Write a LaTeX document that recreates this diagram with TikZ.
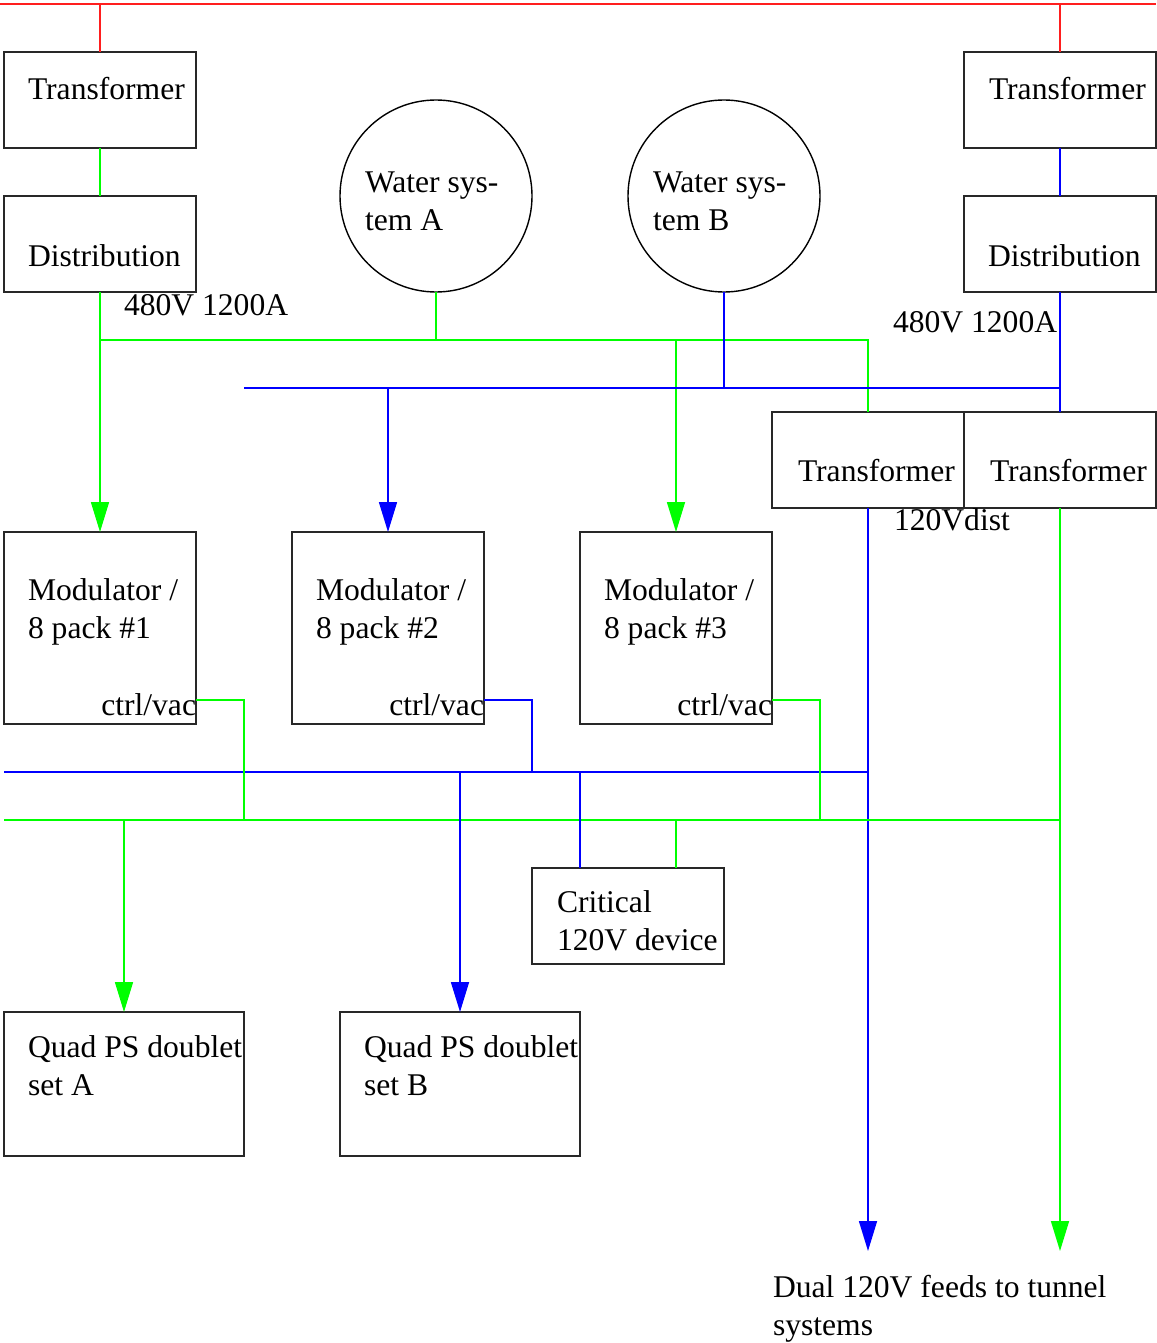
\documentclass[tikz,border=0pt]{standalone}
\usepackage{fontspec}
\setmainfont{Liberation Serif}
\usetikzlibrary{arrows.meta,calc}
\definecolor{cred}{RGB}{255,30,30}
\definecolor{cgreen}{RGB}{0,255,0}
\definecolor{cblue}{RGB}{0,0,255}
\definecolor{cbox}{RGB}{40,40,40}
\tikzset{
  boxst/.style={draw=cbox, line width=1.8pt, inner sep=0pt, outer sep=0pt, anchor=north west},
  circst/.style={draw=black, line width=1.4pt, circle, inner sep=0pt, outer sep=0pt, minimum size=192pt},
  txt/.style={inner sep=0pt, outer sep=0pt, anchor=base west, align=left},
  redl/.style={draw=cred, line width=1.6pt},
  greenl/.style={draw=cgreen, line width=1.6pt},
  bluel/.style={draw=cblue, line width=1.6pt},
  arr/.style={-{Triangle[length=30pt,width=18pt]}},
}
\begin{document}
\begin{tikzpicture}[x=1pt,y=-1pt,font=\fontsize{31.6}{38}\selectfont]
\useasboundingbox (0,0) rectangle (1156,1343);
% boxes
\node[boxst, minimum width=192pt, minimum height=96pt] (tA) at (4,52) {};
\node[boxst, minimum width=192pt, minimum height=96pt] (dA) at (4,196) {};
\node[boxst, minimum width=192pt, minimum height=96pt] (tB) at (964,52) {};
\node[boxst, minimum width=192pt, minimum height=96pt] (dB) at (964,196) {};
\node[boxst, minimum width=192pt, minimum height=96pt] (tC) at (772,412) {};
\node[boxst, minimum width=192pt, minimum height=96pt] (tD) at (964,412) {};
\node[boxst, minimum width=192pt, minimum height=192pt] (m1) at (4,532) {};
\node[boxst, minimum width=192pt, minimum height=192pt] (m2) at (292,532) {};
\node[boxst, minimum width=192pt, minimum height=192pt] (m3) at (580,532) {};
\node[boxst, minimum width=192pt, minimum height=96pt] (crit) at (532,868) {};
\node[boxst, minimum width=240pt, minimum height=144pt] (qA) at (4,1012) {};
\node[boxst, minimum width=240pt, minimum height=144pt] (qB) at (340,1012) {};
\node[circst] (wA) at (436,196) {};
\node[circst] (wB) at (724,196) {};
% texts (multi-line nodes: base anchor is the last line's baseline)
\node[txt] (ttA) at (28,100) {Transformer};
\node[txt] (ttB) at (989,100) {Transformer};
\node[txt] (ttC) at (798,481) {Transformer};
\node[txt] (ttD) at (990,481) {Transformer};
\node[txt] (tdA) at (28,266) {Distribution};
\node[txt] (tdB) at (988,266) {Distribution};
\node[txt] (vA) at (124,315) {480V 1200A};
\node[txt] (vB) at (893,332) {480V 1200A};
\node[txt] (twA) at (365,230) {Water sys-\\tem A};
\node[txt] (twB) at (653,230) {Water sys-\\tem B};
\node[txt] (tdist) at (894,530) {120Vdist};
\node[txt] (tm1) at (28,638) {Modulator /\\8 pack \#1};
\node[txt] (tm2) at (316,638) {Modulator /\\8 pack \#2};
\node[txt] (tm3) at (604,638) {Modulator /\\8 pack \#3};
\node[txt, anchor=base east] (cv1) at (196,715) {ctrl/vac};
\node[txt, anchor=base east] (cv2) at (484,715) {ctrl/vac};
\node[txt, anchor=base east] (cv3) at (772,715) {ctrl/vac};
\node[txt] (tcrit) at (557,950) {Critical\\120V device};
\node[txt] (tqA) at (28,1095) {Quad PS doublet\\set A};
\node[txt] (tqB) at (364,1095) {Quad PS doublet\\set B};
\node[txt] (tdual) at (773,1335) {Dual 120V feeds to tunnel\\systems};
% bus coordinates
\coordinate (redL) at (0,4);
\coordinate (redR) at (1156,4);
\coordinate (g480) at (100,340);
\coordinate (b480) at (244,388);
\coordinate (b120) at (4,772);
\coordinate (g120) at (4,820);
\coordinate (feedB) at (868,1251);
\coordinate (feedG) at (1060,1251);
% red supply
\draw[redl] (redL) -- (redR);
\draw[redl] (tA.north) -- (tA.north |- redL);
\draw[redl] (tB.north) -- (tB.north |- redL);
\draw[greenl] (tA.south) -- (dA.north);
\draw[bluel] (tB.south) -- (dB.north);
% green 480 bus
\draw[greenl, arr] (dA.south) -- (m1.north);
\draw[greenl] (g480) -- (g480 -| tC.north) -- (tC.north);
\draw[greenl] (wA.south) -- (wA.south |- g480);
\draw[greenl, arr] (m3.north |- g480) -- (m3.north);
% blue 480 bus
\draw[bluel] (dB.south) -- (tD.north);
\draw[bluel] (b480) -- (b480 -| tD.north);
\draw[bluel] (wB.south) -- (wB.south |- b480);
\draw[bluel, arr] (m2.north |- b480) -- (m2.north);
% 120V feeds
\draw[bluel, arr] (tC.south) -- (feedB);
\draw[greenl, arr] (tD.south) -- (feedG);
\draw[bluel] (b120) -- (b120 -| tC.south);
\draw[greenl] (g120) -- (g120 -| tD.south);
% ctrl/vac links
\draw[greenl] ($(m1.south east)+(0,-24)$) -- ++(48,0) |- (g120);
\draw[bluel] ($(m2.south east)+(0,-24)$) -- ++(48,0) coordinate (c2) -- (c2 |- b120);
\draw[greenl] ($(m3.south east)+(0,-24)$) -- ++(48,0) coordinate (c3) -- (c3 |- g120);
% quads and critical
\draw[greenl, arr] (qA.north |- g120) -- (qA.north);
\draw[bluel, arr] (qB.north |- b120) -- (qB.north);
\draw[bluel] ($(crit.north west)+(48,0)$) coordinate (cb) -- (cb |- b120);
\draw[greenl] ($(crit.north west)+(144,0)$) coordinate (cg) -- (cg |- g120);
\end{tikzpicture}
\end{document}
